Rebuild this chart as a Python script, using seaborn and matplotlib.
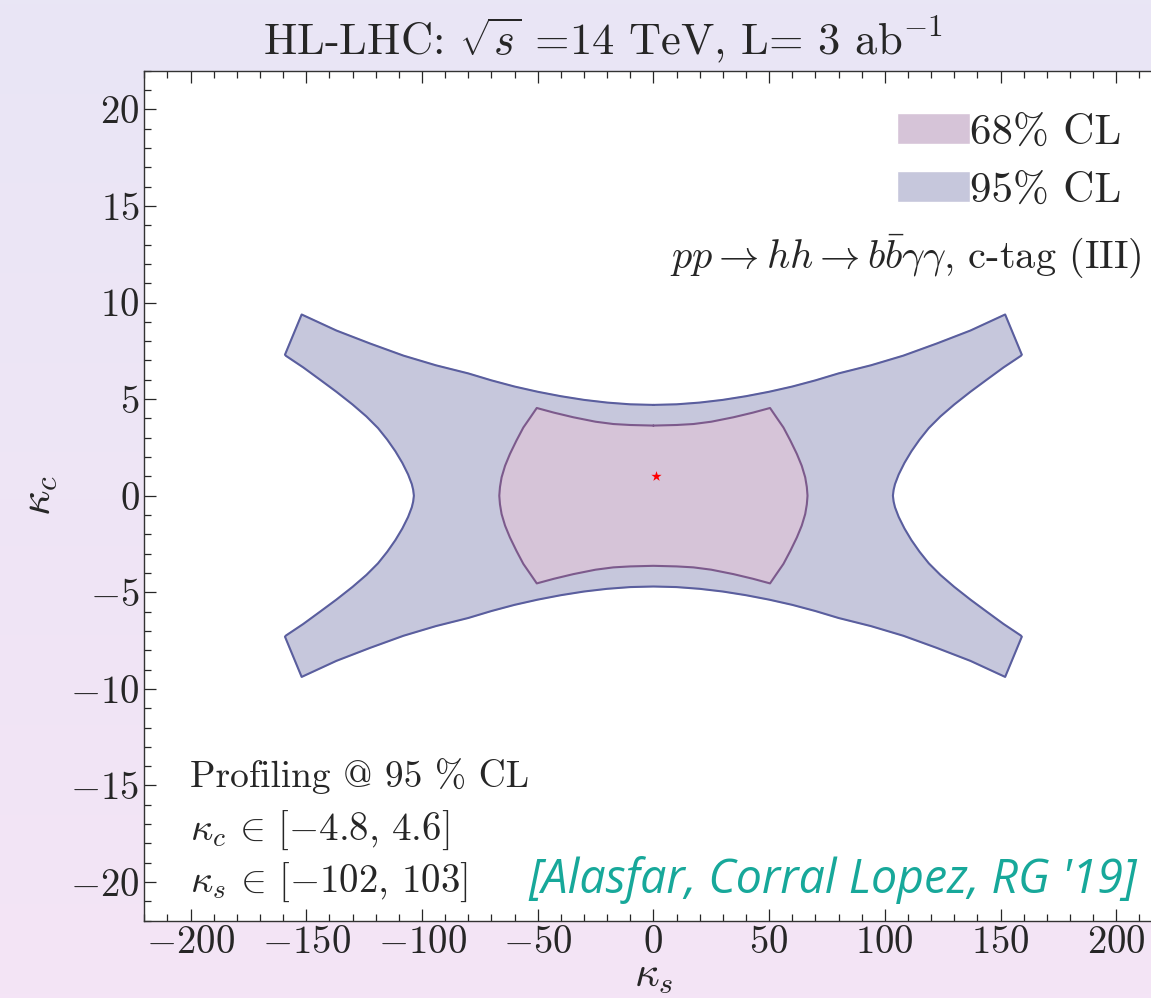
import numpy as np
import matplotlib
matplotlib.use("Agg")
import matplotlib.pyplot as plt
import matplotlib.patches as mpatches
from matplotlib.ticker import MultipleLocator
import seaborn as sns

# Seaborn style first, fonts after (set_style resets font.family)
sns.set_style("ticks")
plt.rcParams['font.family'] = ['cmr10', 'DejaVu Serif']
plt.rcParams['mathtext.fontset'] = 'cm'
plt.rcParams['axes.formatter.use_mathtext'] = True

# 95% CL region, first quadrant (kappa_s, kappa_c)
cl95_top_x = [0, 10, 20, 30, 40, 50, 60, 70, 80, 94, 108, 122.5, 137, 152]
cl95_top_y = [4.7, 4.73, 4.82, 4.96, 5.15, 5.38, 5.65, 5.97, 6.33, 6.75, 7.25, 7.88, 8.55, 9.38]
cl95_side_x = [152, 159.2, 158.8, 151.3, 144, 137, 130, 124, 119, 115, 111.5, 108.5,
               106, 104.4, 103.8, 103.5]
cl95_side_y = [9.38, 7.3, 7.24, 6.64, 6.0, 5.38, 4.72, 4.1, 3.5, 2.9, 2.3, 1.7,
               1.1, 0.6, 0.3, 0.0]

# 68% CL region, first quadrant
cl68_top_x = [0, 10, 17.3, 25, 34.6, 43, 50.4]
cl68_top_y = [3.63, 3.66, 3.71, 3.83, 4.06, 4.3, 4.54]
cl68_side_x = [50.4, 53.2, 56.2, 59.2, 62.0, 64.1, 65.6, 66.3, 66.6]
cl68_side_y = [4.54, 4.05, 3.53, 2.85, 2.16, 1.55, 0.95, 0.45, 0.0]

# best fit / SM point
sm_x = [1.0]
sm_y = [1.0]


def full_outline(top_x, top_y, side_x, side_y):
    qx = np.array(top_x + side_x[1:], dtype=float)
    qy = np.array(top_y + side_y[1:], dtype=float)
    xs = np.concatenate([qx, qx[::-1], -qx, -qx[::-1]])
    ys = np.concatenate([qy, -qy[::-1], -qy, qy[::-1]])
    return xs, ys


W, H = 1151, 998
fig = plt.figure(figsize=(W / 100, H / 100), dpi=100)

# slide background gradient
bg = fig.add_axes([0, 0, 1, 1], zorder=-10)
top_c = np.array([233, 230, 245]) / 255
bot_c = np.array([244, 228, 246]) / 255
t = np.linspace(0, 1, 256)[:, None, None]
grad = top_c * (1 - t) + bot_c * t
grad = np.repeat(grad, 4, axis=1)
bg.imshow(grad, aspect='auto', extent=[0, 1, 0, 1])
bg.axis('off')

ax = fig.add_axes([144.3 / W, 77.3 / H, 1018.2 / W, 850.0 / H])
ax.set_facecolor('white')

c95_fill, c95_edge = '#c6c7dc', '#5a5e9e'
c68_fill, c68_edge = '#d6c4d8', '#7c5a8c'

x95, y95 = full_outline(cl95_top_x, cl95_top_y, cl95_side_x, cl95_side_y)
x68, y68 = full_outline(cl68_top_x, cl68_top_y, cl68_side_x, cl68_side_y)

ax.fill(x95, y95, color=c95_fill, zorder=1)
ax.plot(np.append(x95, x95[0]), np.append(y95, y95[0]), color=c95_edge, lw=1.5, zorder=2)
ax.fill(x68, y68, color=c68_fill, zorder=3)
ax.plot(np.append(x68, x68[0]), np.append(y68, y68[0]), color=c68_edge, lw=1.5, zorder=4)

sns.scatterplot(x=sm_x, y=sm_y, marker='*', color='red', s=60, linewidth=0, ax=ax, zorder=5)

ax.set_xlim(-220, 220)
ax.set_ylim(-22, 22)
ax.xaxis.set_major_locator(MultipleLocator(50))
ax.xaxis.set_minor_locator(MultipleLocator(10))
ax.yaxis.set_major_locator(MultipleLocator(5))
ax.yaxis.set_minor_locator(MultipleLocator(1))
ax.tick_params(which='both', direction='in', top=True, right=True, labelsize=28, width=0.9)
ax.tick_params(which='major', length=8.5)
ax.tick_params(which='minor', length=5)
for s in ax.spines.values():
    s.set_linewidth(1.0)
    s.set_color('#333333')

ax.set_xlabel(r'$\kappa_s$', fontsize=31, labelpad=-2)
ax.set_ylabel(r'$\kappa_c$', fontsize=32, labelpad=8)

fig.text(603 / W, 1 - 40 / H, r'HL-LHC: $\sqrt{s}$ =14 TeV, L= 3 ab$^{-1}$',
         ha='center', va='center', fontsize=32)

handles = [mpatches.Patch(facecolor=c68_fill, label='68% CL'),
           mpatches.Patch(facecolor=c95_fill, label='95% CL')]
ax.legend(handles=handles, loc='upper left', bbox_to_anchor=(0.739, 0.950),
          frameon=False, fontsize=31, handlelength=1.7, handleheight=0.72,
          handletextpad=0.0, labelspacing=0.45, borderpad=0, borderaxespad=0)

ax.text(7.2, 12.4, r'$pp \rightarrow hh \rightarrow b\bar{b}\gamma\gamma$, c-tag (III)',
        fontsize=29, ha='left', va='center')

ax.text(-200.3, -14.5, 'Profiling @ 95 % CL', fontsize=27, ha='left', va='center')
ax.text(-200.3, -17.3, r'$\kappa_c \,\in\, [-4.8,\, 4.6]$', fontsize=28, ha='left', va='center')
ax.text(-200.3, -20.0, r'$\kappa_s \,\in\, [-102,\, 103]$', fontsize=28, ha='left', va='center')

ax.text(-54.2, -19.9, "[Alasfar, Corral Lopez, RG '19]", fontsize=33.5, ha='left', va='center',
        color='#17a89a', family=['Open Sans', 'DejaVu Sans'], style='italic')

fig.savefig('out.png', dpi=100)
